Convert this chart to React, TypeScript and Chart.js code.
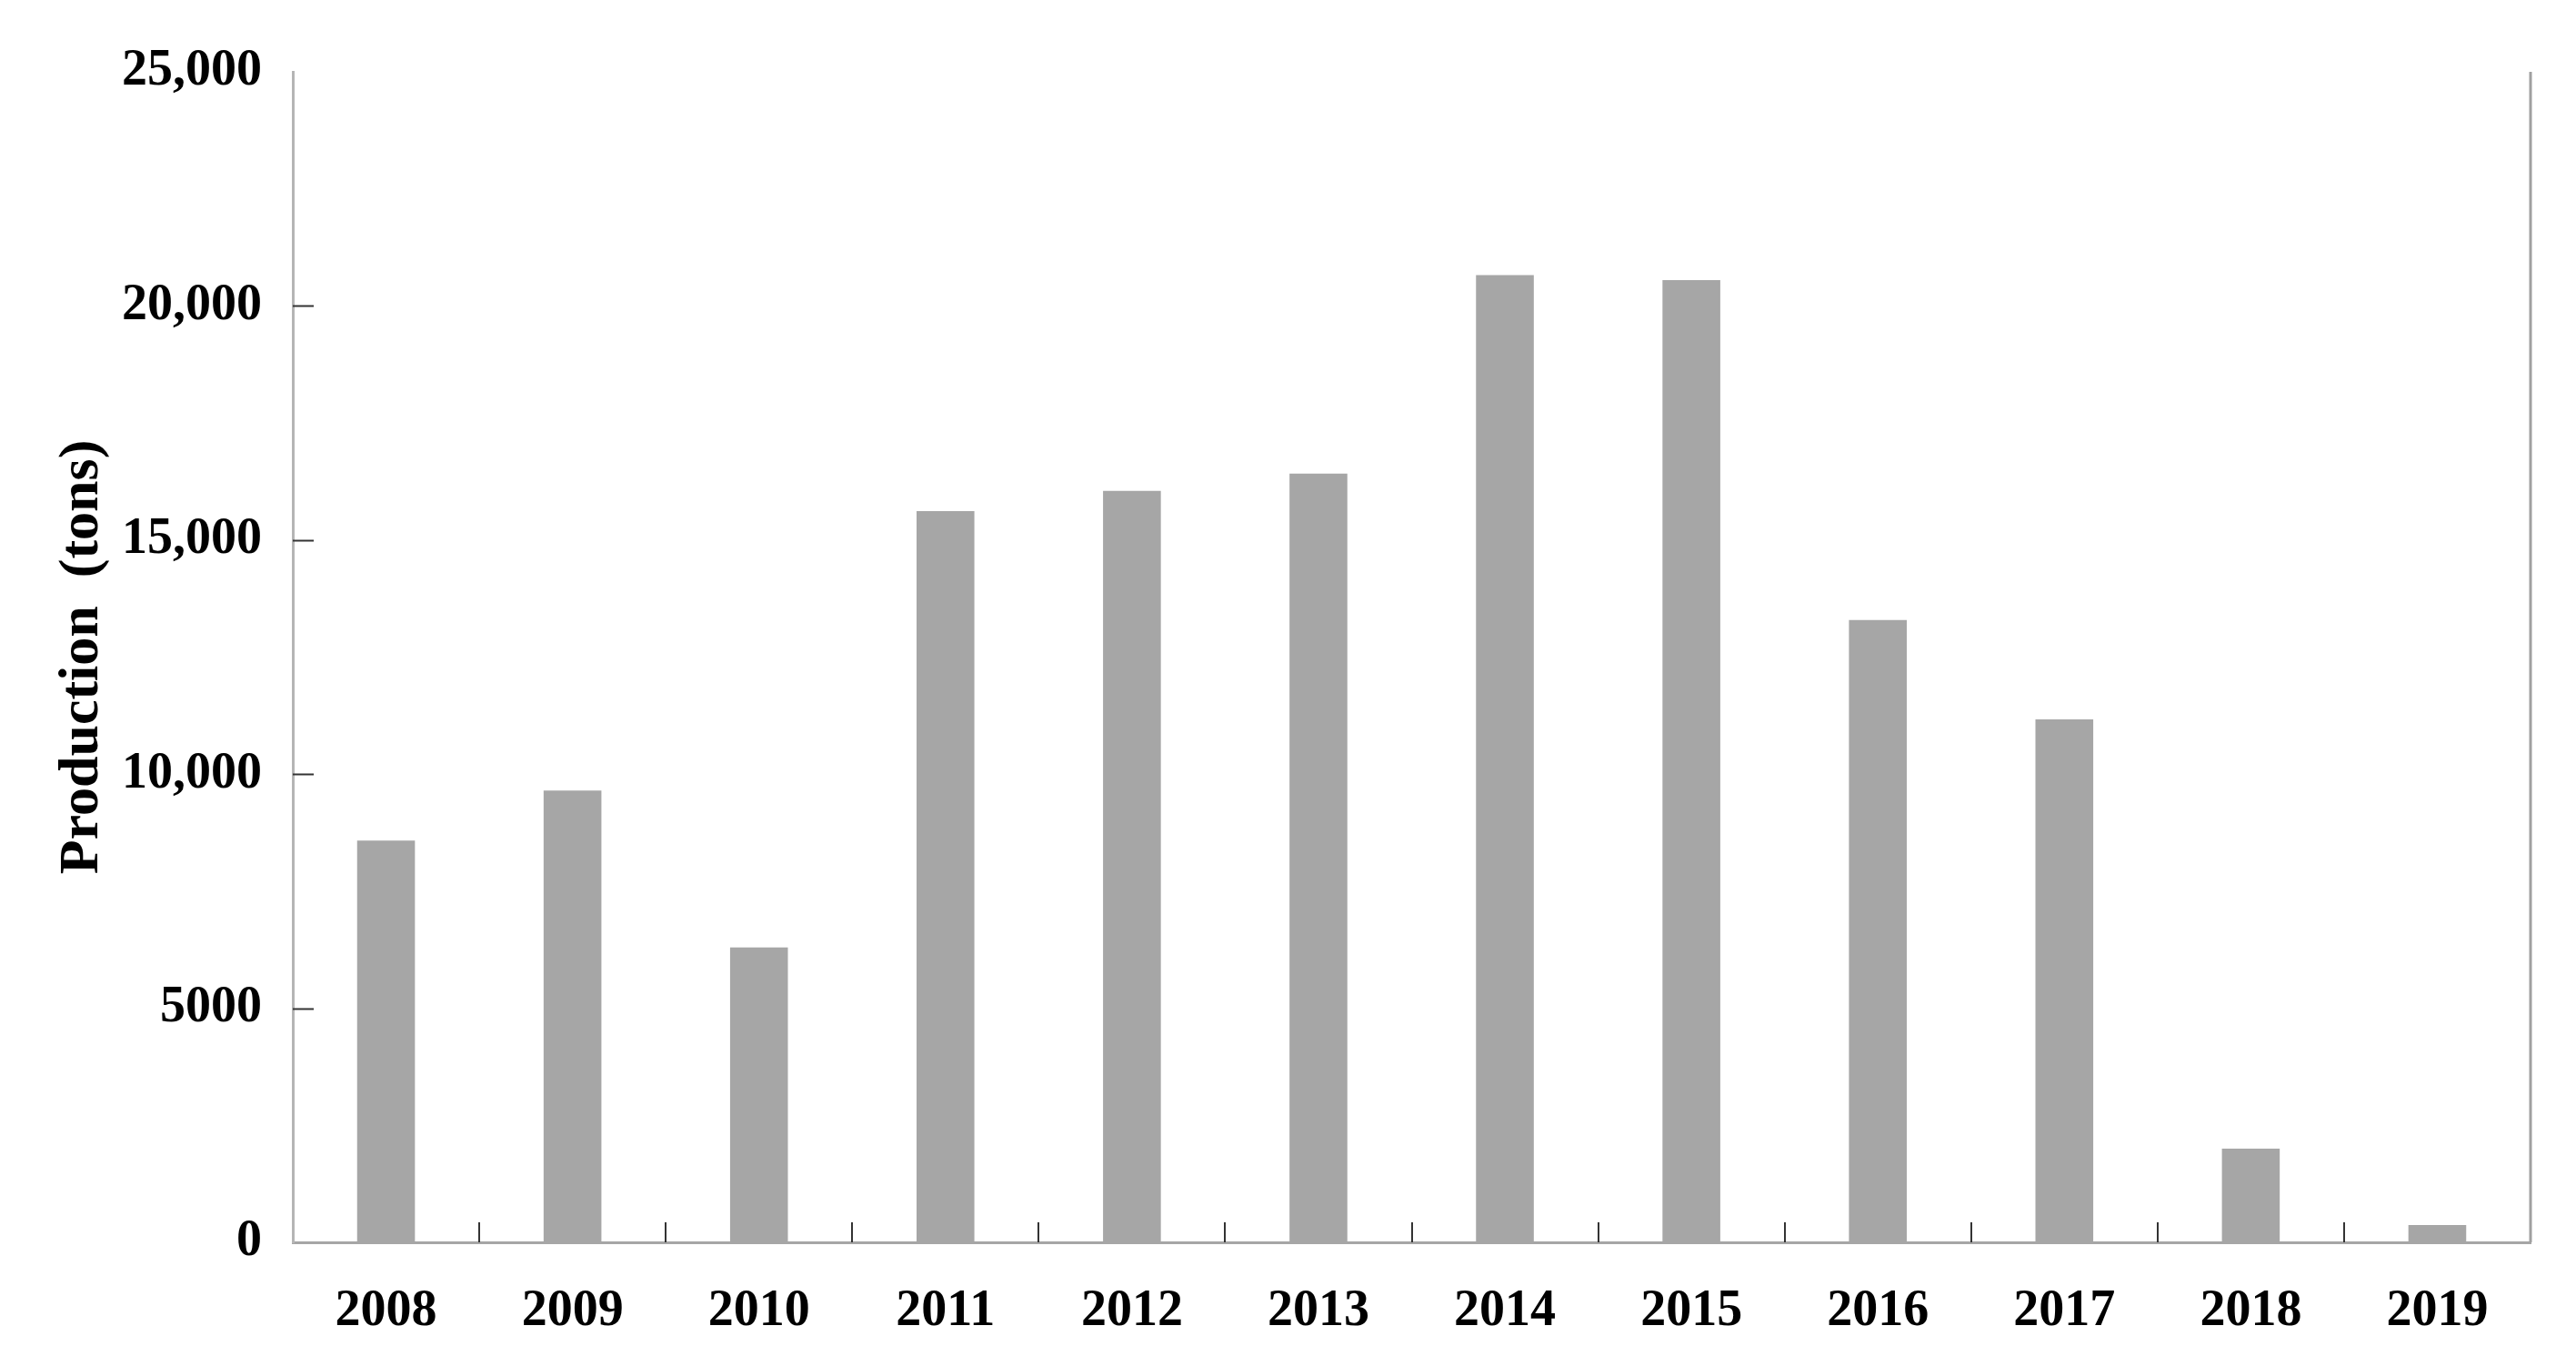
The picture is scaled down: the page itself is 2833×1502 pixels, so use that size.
import React, { useEffect, useRef } from "react";
import { Chart, registerables } from "chart.js";

Chart.register(...registerables);

const years = ["2008", "2009", "2010", "2011", "2012", "2013", "2014", "2015", "2016", "2017", "2018", "2019"];
const production = [8580, 9650, 6300, 15620, 16050, 16420, 20660, 20550, 13290, 11170, 2000, 370];
const yTickValues = [0, 5000, 10000, 15000, 20000, 25000];
const yTickLabels = ["0", "5000", "10,000", "15,000", "20,000", "25,000"];
const yInnerTicks = [5000, 10000, 15000, 20000];

const FONT = "'Liberation Serif', 'Times New Roman', serif";
const W = 2833;
const H = 1502;

const innerTicks = {
  id: "innerTicks",
  afterDraw(chart: any) {
    const { ctx, chartArea, scales } = chart;
    const xs = scales.x;
    const ys = scales.y;
    ctx.save();
    // right border
    ctx.strokeStyle = "#a0a0a0";
    ctx.lineWidth = 3;
    ctx.beginPath();
    ctx.moveTo(chartArea.right, chartArea.top);
    ctx.lineTo(chartArea.right, chartArea.bottom);
    ctx.stroke();
    // y inner ticks
    ctx.strokeStyle = "#333";
    ctx.lineWidth = 2;
    yInnerTicks.forEach((v) => {
      const y = Math.round(ys.getPixelForValue(v)) + 0.5;
      ctx.beginPath();
      ctx.moveTo(chartArea.left, y);
      ctx.lineTo(chartArea.left + 23, y);
      ctx.stroke();
    });
    // x inner ticks at category boundaries
    for (let i = 1; i < years.length; i++) {
      const x = Math.round((xs.getPixelForValue(i - 1) + xs.getPixelForValue(i)) / 2);
      ctx.beginPath();
      ctx.moveTo(x, chartArea.bottom - 22);
      ctx.lineTo(x, chartArea.bottom);
      ctx.stroke();
    }
    ctx.restore();
  },
};

export default function App() {
  const ref = useRef<HTMLCanvasElement | null>(null);
  useEffect(() => {
    if (!ref.current) return;
    const chart = new Chart(ref.current, {
      type: "bar",
      data: {
        labels: years,
        datasets: [
          {
            data: production,
            backgroundColor: "#a6a6a6",
            borderWidth: 0,
            categoryPercentage: 1,
            barPercentage: 0.31,
          },
        ],
      },
      options: {
        responsive: false,
        animation: false,
        layout: { padding: { top: 79, right: 50, left: 0, bottom: 0 } },
        plugins: { legend: { display: false }, tooltip: { enabled: false } },
        scales: {
          x: {
            grid: { display: false, drawTicks: false },
            border: { display: true, color: "#a6a6a6", width: 3 },
            ticks: {
              color: "#000",
              font: { family: FONT, size: 56, weight: "bold" },
              padding: 43,
              maxRotation: 0,
              autoSkip: false,
            },
            afterFit: (s: any) => {
              s.height = 136;
            },
          },
          y: {
            min: 0,
            max: 25000,
            grid: { display: false, drawTicks: false },
            border: { display: true, color: "#b5b5b5", width: 3 },
            afterBuildTicks: (s: any) => {
              s.ticks = yTickValues.map((v) => ({ value: v }));
            },
            ticks: {
              color: "#000",
              font: { family: FONT, size: 56, weight: "bold" },
              padding: 34,
              callback: (value: any) => {
                const i = yTickValues.indexOf(Number(value));
                return i >= 0 ? yTickLabels[i] : "";
              },
            },
            title: {
              display: true,
              text: "Production  (tons)",
              color: "#000",
              font: { family: FONT, size: 62, weight: "bold" },
              padding: { top: 54, bottom: 0 },
            },
            afterFit: (s: any) => {
              s.width = 322;
            },
          },
        },
      },
      plugins: [innerTicks],
    });
    return () => chart.destroy();
  }, []);
  return (
    <canvas
      ref={ref}
      width={W}
      height={H}
      style={{ position: "fixed", left: 0, top: 0, width: W, height: H, display: "block", background: "#fff" }}
    />
  );
}
